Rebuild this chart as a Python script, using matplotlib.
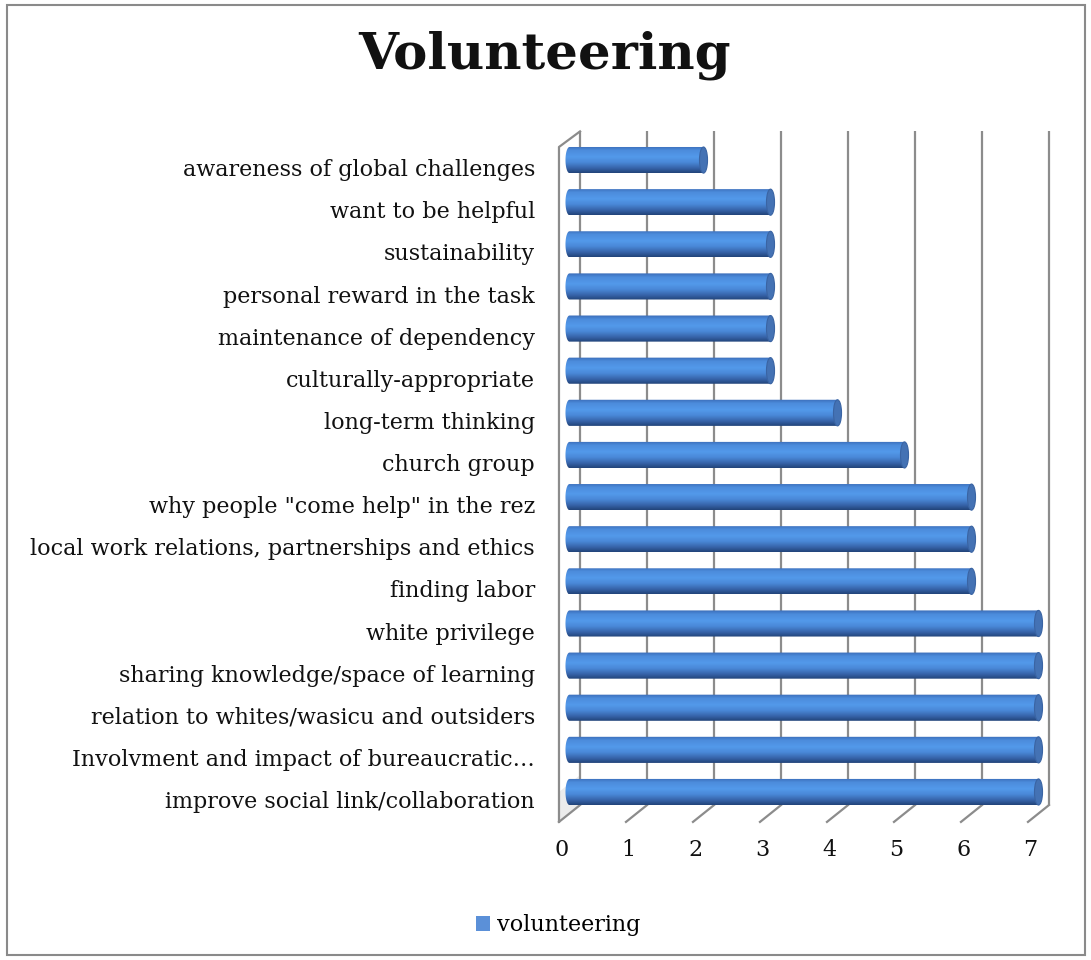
import numpy as np
import matplotlib.pyplot as plt
from matplotlib.colors import LinearSegmentedColormap
from matplotlib.patches import Polygon, Ellipse, Patch, Rectangle

# chart data (top to bottom as shown)
categories = [
    'awareness of global challenges',
    'want to be helpful',
    'sustainability',
    'personal reward in the task',
    'maintenance of dependency',
    'culturally-appropriate',
    'long-term thinking',
    'church group',
    'why people "come help" in the rez',
    'local work relations, partnerships and ethics',
    'finding labor',
    'white privilege',
    'sharing knowledge/space of learning',
    'relation to whites/wasicu and outsiders',
    'Involvment and impact of bureaucratic\u2026',
    'improve social link/collaboration',
]
values = [2, 3, 3, 3, 3, 3, 4, 5, 6, 6, 6, 7, 7, 7, 7, 7]
x_ticks = [0, 1, 2, 3, 4, 5, 6, 7]
series_name = 'volunteering'
title = 'Volunteering'

plt.rcParams['font.family'] = ['DejaVu Serif']

W, H = 1091, 960
fig = plt.figure(figsize=(W / 100, H / 100), dpi=100)

# axes placed in pixel terms
ax_l, ax_r, ax_t, ax_b = 545, 1065, 120, 830
ax = fig.add_axes([ax_l / W, 1 - ax_b / H, (ax_r - ax_l) / W, (ax_b - ax_t) / H])
ax.set_axis_off()

n = len(categories)
ypos = np.arange(n)[::-1]  # top category at highest y

# 3d-ish plane offsets (data units)
bx, by = 0.157, 0.2     # back plane
fx, fy = -0.157, -0.2   # front plane
y_floor_b, y_floor_f = -0.31, -0.71
y_top_b = 15.68
grid_c = '#8c8c8c'

# back wall gridlines
for k in x_ticks:
    ax.plot([k + bx, k + bx], [y_floor_b, y_top_b], color=grid_c, lw=1.6, zorder=1,
            solid_capstyle='butt')
# floor diagonals
for k in x_ticks:
    ax.plot([k + fx, k + bx], [y_floor_f, y_floor_b], color=grid_c, lw=1.6, zorder=1)
# left side wall
ax.plot([fx, fx, bx], [y_floor_f, y_top_b - 0.37, y_top_b], color=grid_c, lw=1.6, zorder=1)
ax.add_patch(Polygon([[fx, y_floor_f], [bx, y_floor_b], [bx, 0.4], [fx, 0.0]],
                     closed=True, facecolor='#ececec', edgecolor='none', zorder=0.5))

# cylinder bars
cyl = LinearSegmentedColormap.from_list('cyl', [
    (0.0, '#3b6db8'), (0.15, '#4c8cdc'), (0.4, '#5399ea'),
    (0.6, '#4a89d8'), (0.82, '#3764aa'), (1.0, '#22447a')])
grad = np.linspace(0, 1, 64).reshape(-1, 1)
bh = 0.62
cw = 0.06
for y, v in zip(ypos, values):
    th = np.linspace(np.pi / 2, 3 * np.pi / 2, 30)
    pts = [[cw * np.cos(t), y + bh / 2 * np.sin(t)] for t in th]
    pts += [[v, y - bh / 2], [v, y + bh / 2]]
    clip = Polygon(pts, closed=True, transform=ax.transData)
    im = ax.imshow(grad, extent=[-cw, v, y - bh / 2, y + bh / 2], aspect='auto',
                   cmap=cyl, origin='upper', zorder=3, interpolation='bilinear')
    im.set_clip_path(clip)
    ax.add_patch(Ellipse((v, y), 2 * cw, bh, facecolor='#4472b4',
                         edgecolor='#3a64a3', lw=0.8, zorder=4))

ax.set_xlim((ax_l - 569.5) / 67, (ax_r - 569.5) / 67)
ax.set_ylim((792 - ax_b) / 42.13, (792 - ax_t) / 42.13)

# category labels (front plane)
for y, lab in zip(ypos, categories):
    ax.text(-0.515, y - 0.24, lab, ha='right', va='center', fontsize=16,
            color='#111111', clip_on=False)
# value axis labels
for k in x_ticks:
    ax.text(k - 0.12, -1.38, str(k), ha='center', va='center', fontsize=16,
            color='#111111', clip_on=False)

fig.text(545 / W, 1 - 55 / H, title, ha='center', va='center', fontsize=37,
         fontweight='bold', color='#111111')

fig.legend(handles=[Patch(facecolor='#5b90d8', edgecolor='none', label=series_name)],
           loc='center', bbox_to_anchor=(558 / W, 1 - 925 / H), frameon=False,
           fontsize=16, handlelength=0.65, handleheight=0.65, handletextpad=0.3)

# outer chart frame
fig.add_artist(Rectangle((7 / W, 5 / H), 1078 / W, 950 / H, transform=fig.transFigure,
                         fill=False, edgecolor='#8a8a8a', lw=1.5))

fig.savefig('out.png', dpi=100)
